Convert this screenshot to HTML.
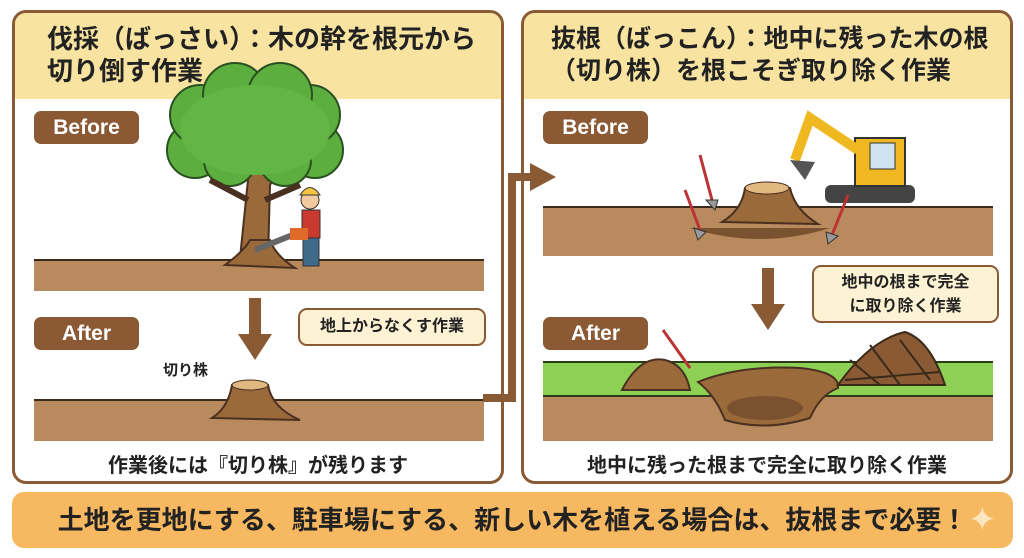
<!DOCTYPE html>
<html><head><meta charset="utf-8"><style>
*{margin:0;padding:0;box-sizing:border-box}
body{width:1024px;height:558px;background:#fff;position:relative;overflow:hidden;font-family:"Liberation Sans","Noto Sans CJK JP",sans-serif;color:#222}
.abs{position:absolute}
.panel{position:absolute;border:3px solid #8a5a35;border-radius:14px;overflow:hidden;background:#fff}
.head{position:absolute;left:0;top:0;right:0;height:86px;background:#f8e3a0}
.ht{position:absolute;font-weight:bold;font-size:26px;line-height:32px;color:#222;white-space:nowrap}
.lab{position:absolute;background:#8b5a35;color:#fff;font-weight:bold;font-size:21px;border-radius:7px;text-align:center;line-height:33px}
.call{position:absolute;background:#fdf3d4;border:2px solid #8a5a35;border-radius:9px;font-weight:bold;font-size:16px;text-align:center;color:#222}
.bt{position:absolute;font-weight:bold;font-size:20px;text-align:center}
</style></head><body>

<div class="panel" style="left:12px;top:10px;width:492px;height:474px">
 <div class="head"></div>
 <div class="ht" style="left:32px;top:10px">伐採（ばっさい）：木の幹を根元から<br>切り倒す作業</div>
 <div class="lab" style="left:19px;top:98px;width:105px">Before</div>
 <div class="lab" style="left:19px;top:304px;width:105px">After</div>
 <div class="abs" style="left:19px;top:246px;width:450px;height:32px;background:#b88a5e;border-top:2px solid #3a2a1a"></div>
 <div class="abs" style="left:19px;top:386px;width:450px;height:42px;background:#b88a5e;border-top:2px solid #3a2a1a"></div>
 <div class="call" style="left:283px;top:295px;width:188px;height:38px;line-height:34px">地上からなくす作業</div>
 <div class="bt" style="left:0;width:486px;top:436px">作業後には『切り株』が残ります</div>
 <div class="abs" style="left:148px;top:346px;font-size:15px;font-weight:bold">切り株</div>
</div>

<div class="panel" style="left:521px;top:10px;width:492px;height:474px">
 <div class="head"></div>
 <div class="ht" style="left:27px;top:10px;font-size:25px">抜根（ばっこん）：地中に残った木の根<br>（切り株）を根こそぎ取り除く作業</div>
 <div class="lab" style="left:19px;top:98px;width:105px">Before</div>
 <div class="lab" style="left:19px;top:304px;width:105px">After</div>
 <div class="abs" style="left:19px;top:193px;width:450px;height:50px;background:#b88a5e;border-top:2px solid #3a2a1a"></div>
 <div class="abs" style="left:19px;top:348px;width:450px;height:36px;background:#8dd054;border-top:2px solid #2a3a1a;border-bottom:2px solid #2a3a1a"></div>
 <div class="abs" style="left:19px;top:384px;width:450px;height:44px;background:#b88a5e"></div>
 <div class="call" style="left:288px;top:252px;width:187px;height:58px;line-height:24px;padding-top:4px">地中の根まで完全<br>に取り除く作業</div>
 <div class="bt" style="left:0;width:486px;top:436px">地中に残った根まで完全に取り除く作業</div>
</div>

<svg class="abs" style="left:0;top:0" width="1024" height="558">
 <path d="M240 258 L248 180 L230 160 L250 168 L262 150 L266 170 L285 160 L270 185 L268 258 Z" fill="#9a6a3a" stroke="#4a3020" stroke-width="2"/>
 <path d="M225 265 Q245 250 250 240 L270 240 Q275 255 295 268 Z" fill="#9a6a3a" stroke="#4a3020" stroke-width="2"/>
 <g fill="#5cae3f" stroke="#2a5020" stroke-width="2">
  <circle cx="195" cy="150" r="28"/><circle cx="315" cy="150" r="28"/>
  <circle cx="200" cy="115" r="30"/><circle cx="310" cy="115" r="30"/>
  <circle cx="235" cy="95" r="32"/><circle cx="280" cy="95" r="32"/>
  <circle cx="230" cy="160" r="26"/><circle cx="285" cy="160" r="26"/>
 </g>
 <ellipse cx="255" cy="130" rx="75" ry="45" fill="#62b646"/>
 <path d="M210 180 L248 200 M300 185 L265 200" stroke="#4a3020" stroke-width="6"/>
 <circle cx="310" cy="200" r="9" fill="#f3c9a0" stroke="#333"/>
 <path d="M300 195 Q310 180 320 195 Z" fill="#f5c542" stroke="#333"/>
 <rect x="302" y="210" width="18" height="28" fill="#c83a2e" stroke="#333"/>
 <rect x="303" y="238" width="16" height="28" fill="#3f6a8a" stroke="#333"/>
 <path d="M255 250 L300 232" stroke="#666" stroke-width="6"/>
 <rect x="290" y="228" width="18" height="12" fill="#e06a2a"/>
 <path d="M212 418 Q228 408 232 385 L268 385 Q272 408 300 420 Z" fill="#9a6a3a" stroke="#4a3020" stroke-width="2"/>
 <ellipse cx="250" cy="385" rx="18" ry="5" fill="#e0b880" stroke="#4a3020"/>
 <rect x="249" y="298" width="12" height="38" fill="#8a5a35"/><path d="M238 334 L272 334 L255 360 Z" fill="#8a5a35"/>
 <rect x="762" y="268" width="12" height="38" fill="#8a5a35"/><path d="M751 304 L785 304 L768 330 Z" fill="#8a5a35"/>
 <path d="M483 398 L512 398 L512 177 L532 177" fill="none" stroke="#8a5a35" stroke-width="8"/>
 <path d="M530 163 L556 177 L530 191 Z" fill="#8a5a35"/>
 <path d="M722 222 Q742 210 745 188 L790 188 Q795 210 818 224 Z" fill="#9a6a3a" stroke="#4a3020" stroke-width="2"/>
 <ellipse cx="767" cy="188" rx="22" ry="6" fill="#e0b880" stroke="#4a3020"/>
 <path d="M690 228 Q760 250 830 228" fill="#7a5230"/>
 <rect x="825" y="185" width="90" height="18" rx="6" fill="#444"/>
 <rect x="855" y="138" width="50" height="48" fill="#f0b820" stroke="#333" stroke-width="2"/>
 <rect x="870" y="143" width="25" height="26" fill="#cfe3ef" stroke="#333"/>
 <path d="M858 150 L810 118 L795 160" fill="none" stroke="#f0b820" stroke-width="10"/>
 <path d="M790 160 L815 162 L805 180 Z" fill="#555"/>
 <path d="M700 155 L712 200 M685 190 L700 230 M848 195 L832 235" stroke="#b33" stroke-width="3"/>
 <path d="M706 200 L718 200 L715 210 Z M694 228 L706 232 L698 240 Z M826 232 L838 236 L828 244 Z" fill="#999" stroke="#333"/>
 <path d="M622 390 Q640 355 665 360 Q685 365 690 390 Z" fill="#9a6a3a" stroke="#4a3020" stroke-width="2"/>
 <path d="M663 330 L690 368" stroke="#b33" stroke-width="3"/>
 <path d="M698 382 Q740 365 800 368 Q840 372 838 388 Q820 395 810 418 Q765 432 725 420 Q715 395 698 382 Z" fill="#9a6a3a" stroke="#4a3020" stroke-width="2"/>
 <ellipse cx="765" cy="408" rx="38" ry="12" fill="#7a5230"/>
 <path d="M838 385 Q870 340 905 332 Q930 340 945 385 Z" fill="#8a5a35" stroke="#3a2a1a" stroke-width="2"/>
 <path d="M850 360 L880 385 M870 345 L900 385 M900 340 L930 380 M845 380 L940 372" stroke="#3a2a1a" stroke-width="2"/>
</svg>

<div class="abs" style="left:12px;top:492px;width:1001px;height:56px;background:#f6b860;border-radius:12px;font-weight:bold;font-size:26px;text-align:center;line-height:56px">土地を更地にする、駐車場にする、新しい木を植える場合は、抜根まで必要！</div>
<div class="abs" style="left:968px;top:502px;color:#fbe6c0;font-size:34px;line-height:36px">✦</div>
</body></html>
